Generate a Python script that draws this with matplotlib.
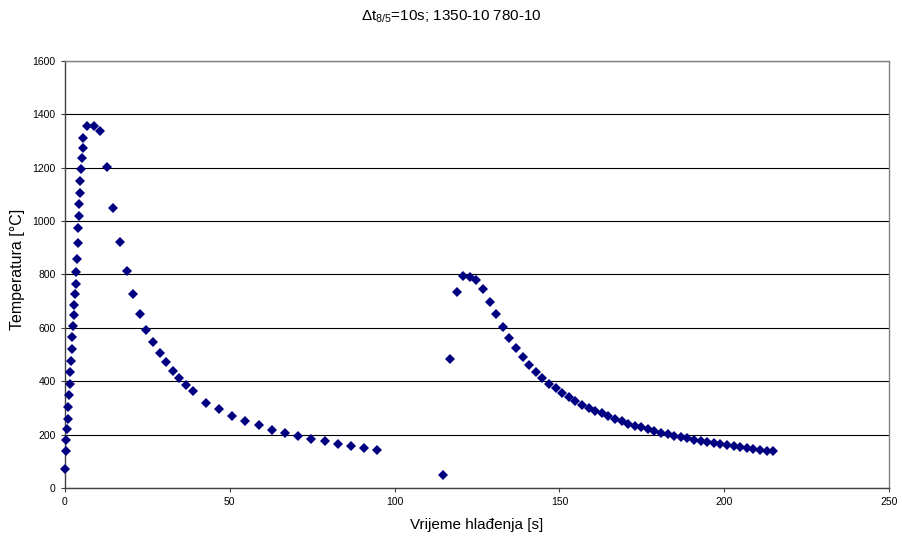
import matplotlib
matplotlib.use('Agg')
import matplotlib.pyplot as plt

plt.rcParams['font.family'] = ['Liberation Sans', 'DejaVu Sans']
plt.rcParams['mathtext.fontset'] = 'custom'
plt.rcParams['mathtext.rm'] = 'Liberation Sans'
plt.rcParams['mathtext.it'] = 'Liberation Sans:italic'

# zagrijavanje 1
rast_x = [0, 0.3, 0.5, 0.8, 0.9, 1.1, 1.3, 1.5, 1.6, 1.9, 2.1, 2.3, 2.5, 2.7, 2.9,
          3.1, 3.3, 3.5, 3.7, 3.9, 4.0, 4.3, 4.4, 4.6, 4.7, 4.9, 5.15, 5.5, 5.7]
rast_y = [70, 140, 181, 220, 260, 305, 347, 391, 435, 477, 520, 564, 605, 647, 687,
          727, 764, 809, 859, 917, 974, 1020, 1064, 1104, 1149, 1194, 1234, 1272, 1309]

# hladjenje 1
hlad1_x = [6.8, 8.8, 10.8, 12.8, 14.8, 16.8, 18.8, 20.8, 22.8, 24.8, 26.8, 28.8,
           30.8, 32.8, 34.8, 36.8, 38.8, 42.8, 46.8, 50.8, 54.8, 58.8, 62.8, 66.8,
           70.8, 74.8, 78.8, 82.8, 86.8, 90.8, 94.8]
hlad1_y = [1356, 1356, 1335, 1201, 1049, 921, 812, 725, 652, 593, 546, 507,
           471, 437, 411, 387, 365, 320, 295, 271, 252, 235, 219, 206,
           194, 182, 175, 165, 157, 150, 142]

# drugi ciklus
ciklus2_x = [114.7, 116.8, 118.8, 120.8, 122.8, 124.8, 126.8, 128.8, 130.8, 132.8,
             134.8, 136.8, 138.8, 140.8, 142.8, 144.8, 146.8, 148.8, 150.8, 152.8,
             154.8, 156.8, 158.8, 160.8, 162.8, 164.8, 166.8, 168.8, 170.8, 172.8,
             174.8, 176.8, 178.8, 180.8, 182.8, 184.8, 186.8, 188.8, 190.8, 192.8,
             194.8, 196.8, 198.8, 200.8, 202.8, 204.8, 206.8, 208.8, 210.8, 212.8,
             214.7]
ciklus2_y = [48, 483, 733, 793, 789, 779, 744, 698, 651, 603,
             562, 523, 491, 461, 436, 412, 391, 374, 356, 339,
             325, 311, 300, 289, 279, 269, 259, 250, 241, 234,
             227, 220, 214, 207, 201, 196, 191, 186, 181, 176,
             171, 167, 164, 160, 156, 152, 150, 146, 142, 140,
             137]

x_sve = rast_x + hlad1_x + ciklus2_x
y_sve = rast_y + hlad1_y + ciklus2_y

fig = plt.figure(figsize=(9.02, 5.39), dpi=100)
ax = fig.add_axes([0.0717, 0.0946, 0.9143, 0.7928])

ax.plot(x_sve, y_sve, linestyle='none', marker='D', markersize=4.6,
        color='#000080', markeredgewidth=0, zorder=3, clip_on=False)

ax.set_xlim(0, 250)
ax.set_ylim(0, 1600)
ax.set_xticks([0, 50, 100, 150, 200, 250])
ax.set_yticks(range(0, 1601, 200))
ax.yaxis.grid(True, color='black', linewidth=0.8)
ax.set_axisbelow(True)

for s in ['top', 'right']:
    ax.spines[s].set_color('#808080')
    ax.spines[s].set_linewidth(1.0)
for s in ['left', 'bottom']:
    ax.spines[s].set_color('#404040')
    ax.spines[s].set_linewidth(1.0)

ax.tick_params(axis='both', labelsize=7.5, length=3, width=0.8, color='#404040')

ax.set_xlabel('Vrijeme hlađenja [s]', fontsize=11, labelpad=8)
ax.set_ylabel('Temperatura [°C]', fontsize=11.5, labelpad=5)
ax.yaxis.set_label_coords(-0.048, 0.512)

fig.text(0.5, 0.969, r'Δt$_{8/5}$=10s; 1350-10 780-10', ha='center', va='center', fontsize=11)

fig.savefig('out.png', dpi=100)
